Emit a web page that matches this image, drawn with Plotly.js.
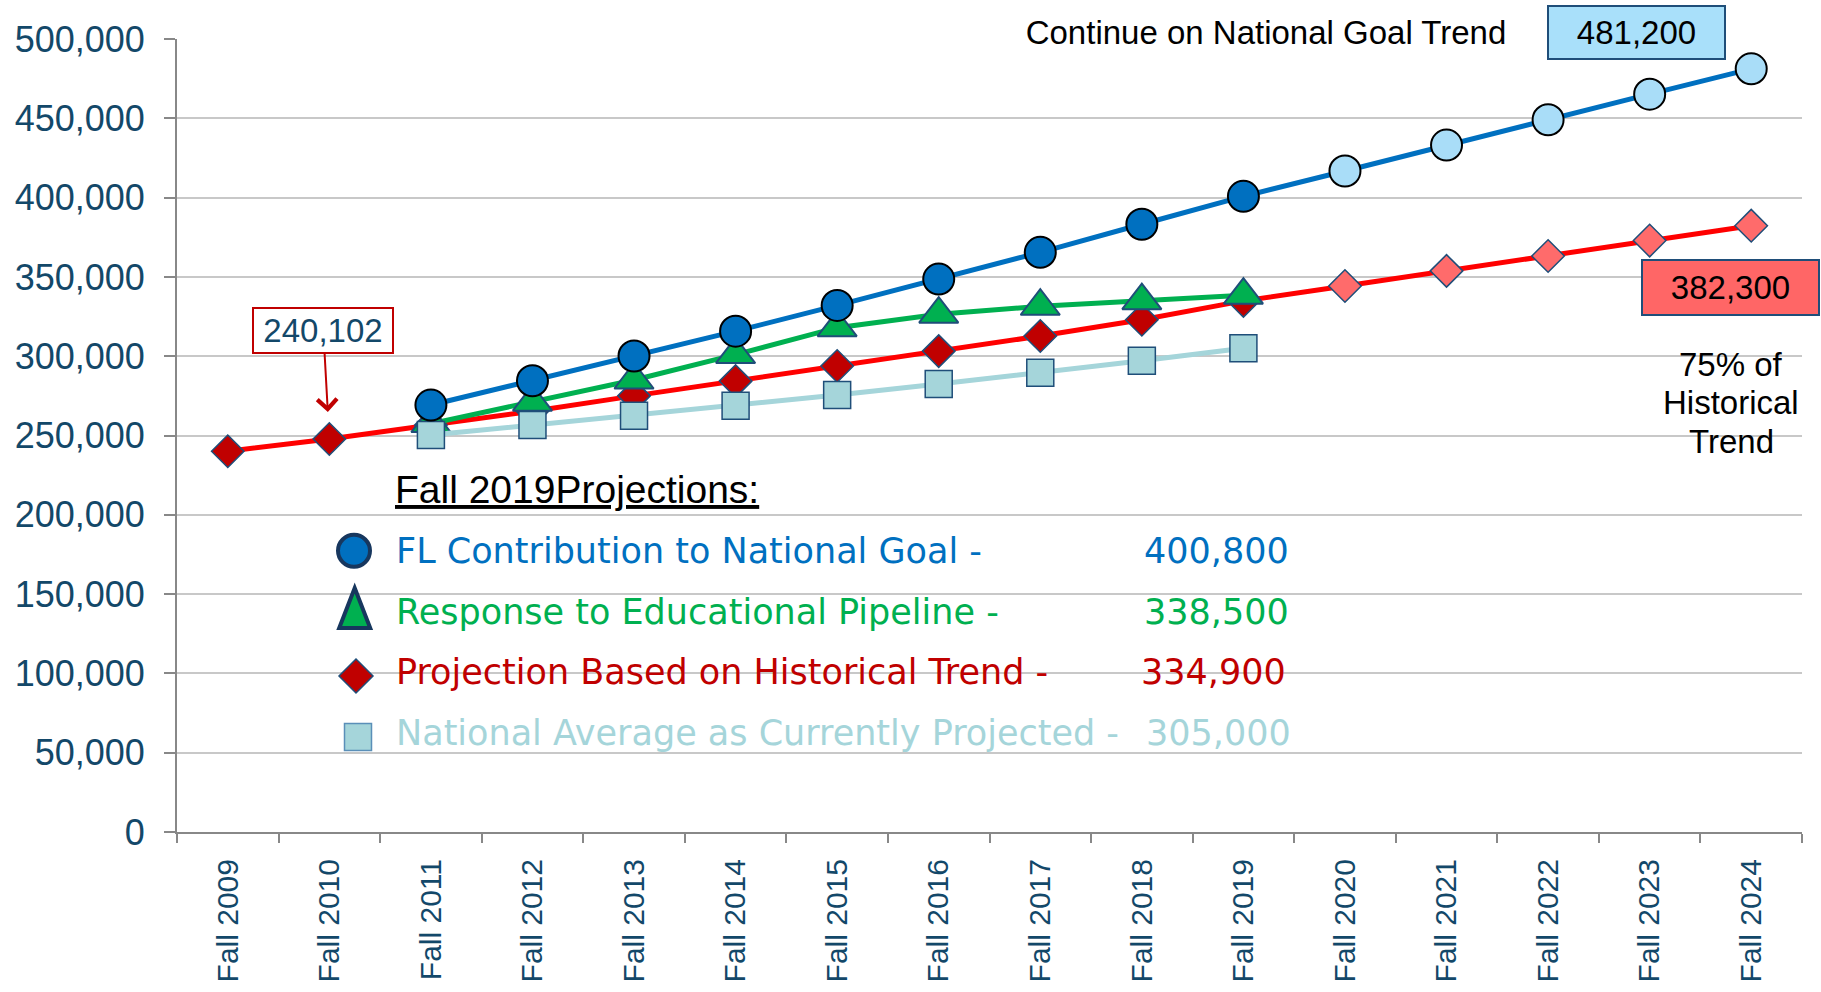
<!DOCTYPE html>
<html>
<head>
<meta charset="utf-8">
<script src="https://cdn.plot.ly/plotly-3.0.1.min.js"></script>
<style>
  html, body { margin: 0; padding: 0; background: #ffffff; }
  #chart { width: 1821px; height: 992px; }
</style>
</head>
<body>
<div id="chart"></div>
<script>
// ---------------- DATA ----------------
const categories = ['Fall 2009','Fall 2010','Fall 2011','Fall 2012','Fall 2013','Fall 2014','Fall 2015','Fall 2016',
                    'Fall 2017','Fall 2018','Fall 2019','Fall 2020','Fall 2021','Fall 2022','Fall 2023','Fall 2024'];
const nationalGoal        = [null, null, 269200, 284500, 300100, 315800, 332000, 348600, 365500, 383200, 400800, 416800, 433100, 449100, 465200, 481200];
const educationalPipeline = [null, null, 257500, 271000, 285000, 301000, 318000, 326500, 331500, 335000, 338500, null, null, null, null, null];
const historicalTrend     = [240102, 247800, 256600, 265300, 275000, 284300, 293800, 303200, 312700, 323000, 334900, 344300, 353800, 363200, 372900, 382300];
const nationalAverage     = [null, null, 250300, 256600, 262500, 268800, 275500, 282400, 289500, 297100, 305000, null, null, null, null, null];
const seriesNames = ['FL Contribution to National Goal -', 'Response to Educational Pipeline -',
                     'Projection Based on Historical Trend -', 'National Average as Currently Projected -'];
const projectionYear = 'Fall 2019';
const legendTitle = 'Fall 2019Projections:';
const goalNote = 'Continue on National Goal Trend';
const trendNote = ['75% of', 'Historical', 'Trend'];

// ---------------- LAYOUT HELPERS ----------------
const W = 1821, H = 992, ML = 177, MR = 19, MT = 39, MB = 160;
const PW = W - ML - MR, PH = H - MT - MB;
const px = x => (x - ML) / PW;
const py = y => (H - MB - y) / PH;
const fmt = v => v.toLocaleString('en-US');
const projIdx = categories.indexOf(projectionYear);
const lastIdx = categories.length - 1;

const NAVY = '#1F4E79';
const TICK = '#134869';
const ARIAL = 'Liberation Sans, Arial, sans-serif';
const DEJA = 'DejaVu Sans, sans-serif';

const isProjected = (i) => i > projIdx;

// ---------------- TRACES ----------------
const traces = [
  {
    x: categories, y: historicalTrend, type: 'scatter', mode: 'lines+markers', name: seriesNames[2],
    line: { color: '#FF0000', width: 5 },
    marker: { symbol: 'diamond', size: 25,
              color: categories.map((c, i) => isProjected(i) ? '#FF6B6B' : '#C00000'),
              line: { color: NAVY, width: 1.5 } },
    cliponaxis: false, hoverinfo: 'x+y'
  },
  {
    x: categories, y: educationalPipeline, type: 'scatter', mode: 'lines+markers', name: seriesNames[1],
    line: { color: '#00B050', width: 5 },
    marker: { symbol: 'triangle-up', size: 34, color: '#00B050', line: { color: NAVY, width: 2 } },
    cliponaxis: false, hoverinfo: 'x+y'
  },
  {
    x: categories, y: nationalAverage, type: 'scatter', mode: 'lines+markers', name: seriesNames[3],
    line: { color: '#A5D5DA', width: 5 },
    marker: { symbol: 'square', size: 27, color: '#A5D5DA', line: { color: NAVY, width: 1.5 } },
    cliponaxis: false, hoverinfo: 'x+y'
  },
  {
    x: categories, y: nationalGoal, type: 'scatter', mode: 'lines+markers', name: seriesNames[0],
    line: { color: '#0070C0', width: 5 },
    marker: { symbol: 'circle', size: 31,
              color: categories.map((c, i) => isProjected(i) ? '#A9DDF8' : '#0070C0'),
              line: { color: '#000000', width: 2 } },
    cliponaxis: false, hoverinfo: 'x+y'
  }
];

// ---------------- ANNOTATIONS ----------------
const annotations = [];

// data callout 240,102
annotations.push({
  xref: 'x', yref: 'y', x: categories[1], y: historicalTrend[1],
  text: fmt(historicalTrend[0]),
  showarrow: true, ax: -6, ay: -108, standoff: 27,
  arrowhead: 4, arrowsize: 1.9, arrowwidth: 2, arrowcolor: '#C00000',
  bgcolor: '#FFFFFF', bordercolor: '#C00000', borderwidth: 2, width: 136, height: 41,
  font: { family: ARIAL, size: 33, color: TICK }
});

// 481,200 box
annotations.push({
  xref: 'paper', yref: 'paper', x: px(1636), y: py(32.5), xanchor: 'center', yanchor: 'middle',
  text: fmt(nationalGoal[lastIdx]), showarrow: false,
  bgcolor: '#A9E0FA', bordercolor: NAVY, borderwidth: 2, width: 173, height: 49,
  font: { family: ARIAL, size: 33, color: '#000000' }
});

// 382,300 box
annotations.push({
  xref: 'paper', yref: 'paper', x: px(1730.7), y: py(287.5), xanchor: 'center', yanchor: 'middle',
  text: fmt(historicalTrend[lastIdx]), showarrow: false,
  bgcolor: '#FF6666', bordercolor: NAVY, borderwidth: 2, width: 173, height: 51,
  font: { family: ARIAL, size: 33, color: '#000000' }
});

// Continue on National Goal Trend
annotations.push({
  xref: 'paper', yref: 'paper', x: px(1266), y: py(32.3), xanchor: 'center', yanchor: 'middle',
  text: goalNote, showarrow: false, bgcolor: '#FFFFFF', width: 534, height: 44,
  font: { family: ARIAL, size: 33, color: '#000000' }
});

// 75% of Historical Trend
[364, 403, 441].forEach((yy, k) => {
  annotations.push({
    xref: 'paper', yref: 'paper', x: px(1731), y: py(yy), xanchor: 'center', yanchor: 'middle',
    text: trendNote[k], showarrow: false,
    font: { family: ARIAL, size: 33, color: '#000000' }
  });
});

// custom legend
annotations.push({
  xref: 'paper', yref: 'paper', x: px(393), y: py(489.7), xanchor: 'left', yanchor: 'middle',
  text: '<u>' + legendTitle + '</u>', showarrow: false,
  font: { family: ARIAL, size: 39, color: '#000000' }
});
const legendRows = [
  { name: seriesNames[0], val: nationalGoal[projIdx],        color: '#0070C0', y: 550.8, vx: 1144 },
  { name: seriesNames[1], val: educationalPipeline[projIdx], color: '#00B050', y: 611.6, vx: 1144 },
  { name: seriesNames[2], val: historicalTrend[projIdx],     color: '#C00000', y: 672.4, vx: 1141 },
  { name: seriesNames[3], val: nationalAverage[projIdx],     color: '#A5D5DA', y: 733.2, vx: 1146 }
];
legendRows.forEach(r => {
  annotations.push({
    xref: 'paper', yref: 'paper', x: px(394), y: py(r.y), xanchor: 'left', yanchor: 'middle',
    text: r.name, showarrow: false, font: { family: DEJA, size: 35, color: r.color }
  });
  annotations.push({
    xref: 'paper', yref: 'paper', x: px(r.vx - 2), y: py(r.y), xanchor: 'left', yanchor: 'middle',
    text: fmt(r.val), showarrow: false, font: { family: DEJA, size: 35, color: r.color }
  });
});

// ---------------- SHAPES ----------------
const shapes = [
  // white-outs over gridlines
  { type: 'rect', xref: 'paper', yref: 'paper', x0: px(374), x1: px(1362), y0: py(790), y1: py(465),
    fillcolor: '#FFFFFF', line: { width: 0 }, layer: 'between' },
  { type: 'rect', xref: 'paper', yref: 'paper', x0: px(1639), x1: 1.01, y0: py(458), y1: py(342),
    fillcolor: '#FFFFFF', line: { width: 0 }, layer: 'between' },
  // legend glyphs
  { type: 'circle', xref: 'paper', yref: 'paper', xsizemode: 'pixel', ysizemode: 'pixel',
    xanchor: px(354), yanchor: py(550.8), x0: -16, x1: 16, y0: -16, y1: 16,
    fillcolor: '#0070C0', line: { color: '#17375E', width: 4 }, layer: 'above' },
  { type: 'path', xref: 'paper', yref: 'paper', xsizemode: 'pixel', ysizemode: 'pixel',
    xanchor: px(354.7), yanchor: py(608), path: 'M0,20 L15.5,-20 L-15.5,-20 Z',
    fillcolor: '#00B050', line: { color: '#17375E', width: 4 }, layer: 'above' },
  { type: 'path', xref: 'paper', yref: 'paper', xsizemode: 'pixel', ysizemode: 'pixel',
    xanchor: px(356), yanchor: py(676), path: 'M0,17 L17,0 L0,-17 L-17,0 Z',
    fillcolor: '#C00000', line: { color: NAVY, width: 1.5 }, layer: 'above' },
  { type: 'rect', xref: 'paper', yref: 'paper', xsizemode: 'pixel', ysizemode: 'pixel',
    xanchor: px(358), yanchor: py(737), x0: -13.5, x1: 13.5, y0: -13.5, y1: 13.5,
    fillcolor: '#A5D5DA', line: { color: '#5A8FB8', width: 1.5 }, layer: 'above' }
];

// ---------------- LAYOUT ----------------
const layout = {
  width: W, height: H,
  margin: { l: ML, r: MR, t: MT, b: MB, pad: 0 },
  paper_bgcolor: '#FFFFFF', plot_bgcolor: '#FFFFFF',
  showlegend: false,
  xaxis: {
    type: 'category', range: [-0.5, categories.length - 0.5],
    showgrid: false, zeroline: false,
    showline: true, linecolor: '#888888', linewidth: 2,
    ticks: 'outside', tickson: 'boundaries', ticklen: 9, tickwidth: 2, tickcolor: '#888888',
    tickangle: -90, ticklabelstandoff: 13,
    tickfont: { family: ARIAL, size: 30, color: TICK },
    fixedrange: true
  },
  yaxis: {
    range: [0, 500000], dtick: 50000, tick0: 0, tickformat: ',',
    showgrid: true, gridcolor: '#C8C8C8', gridwidth: 2, zeroline: false,
    showline: true, linecolor: '#888888', linewidth: 2,
    ticks: 'outside', ticklen: 11, tickwidth: 2, tickcolor: '#888888',
    ticklabelstandoff: 12,
    tickfont: { family: ARIAL, size: 36, color: TICK },
    fixedrange: true
  },
  annotations: annotations,
  shapes: shapes
};

Plotly.newPlot('chart', traces, layout, { displayModeBar: false, staticPlot: true });
</script>
</body>
</html>
